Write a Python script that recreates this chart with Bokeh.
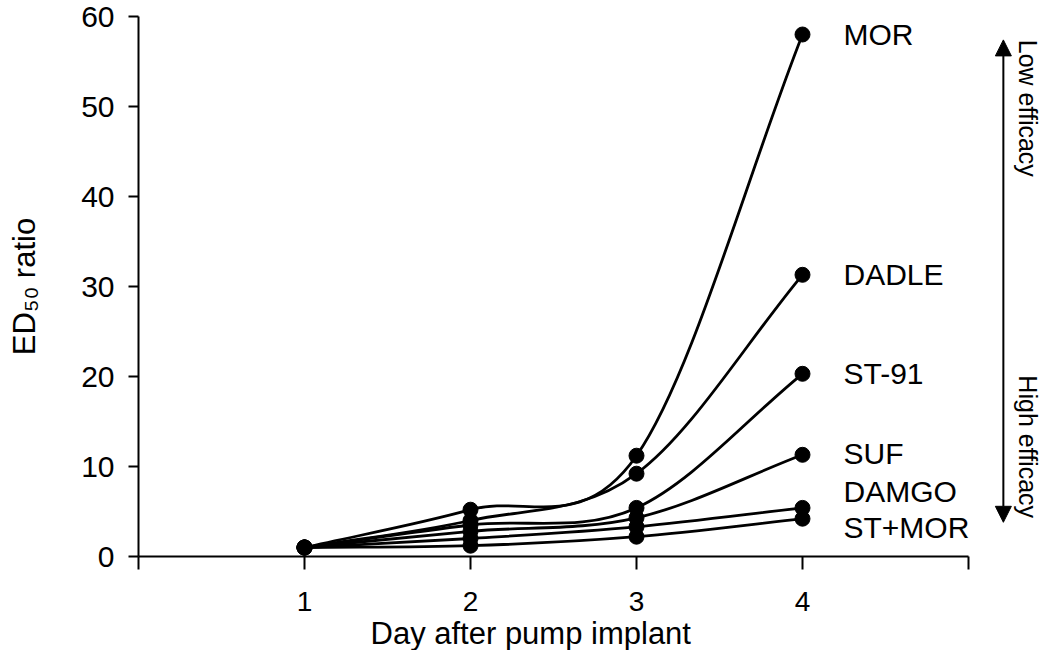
import math
from bokeh.plotting import figure
from bokeh.models import Range1d, FixedTicker, Label, Arrow, NormalHead, Title
from bokeh.core.properties import value
from bokeh.embed import file_html
from bokeh.resources import INLINE

# ---- data ----
days = [1, 2, 3, 4]
series_names = ["MOR", "DADLE", "ST-91", "SUF", "DAMGO", "ST+MOR"]
mor = [1.0, 5.2, 11.2, 58.0]
dadle = [1.0, 4.0, 9.2, 31.3]
st91 = [1.0, 3.5, 5.4, 20.3]
suf = [1.0, 2.8, 4.3, 11.3]
damgo = [1.0, 2.0, 3.3, 5.4]
stmor = [1.0, 1.2, 2.2, 4.2]
x_ticks = [0, 1, 2, 3, 4, 5]
y_ticks = [0, 10, 20, 30, 40, 50, 60]
series_values = [mor, dadle, st91, suf, damgo, stmor]

# label placement (layout only)
label_y = [58.0, 31.3, 20.3, 11.4, 7.2, 3.2]

FONT = "Liberation Sans"
PX_X = 166.0   # pixels per day

p = figure(width=1046, height=650, output_backend="svg", toolbar_location=None,
           x_range=Range1d(0, 908 / PX_X), y_range=Range1d(0, 60),
           min_border_left=138, min_border_right=0, min_border_top=16,
           min_border_bottom=93)
p.outline_line_color = None
p.grid.visible = False
p.background_fill_color = "white"

# axes
p.xaxis.ticker = FixedTicker(ticks=x_ticks)
p.xaxis.major_label_overrides = {0: "", 5: ""}
p.xaxis.bounds = (0, 5)
p.yaxis.ticker = FixedTicker(ticks=y_ticks)
p.yaxis.bounds = (0, 60)
for ax in (p.xaxis, p.yaxis):
    ax.axis_line_width = 2
    ax.axis_line_color = "black"
    ax.major_tick_line_width = 2
    ax.major_tick_line_color = "black"
    ax.major_tick_in = 0
    ax.minor_tick_line_color = None
    ax.major_label_text_font = FONT
    ax.major_label_text_color = "black"
p.xaxis.major_label_text_font_size = "28px"
p.yaxis.major_label_text_font_size = "30px"
p.xaxis.major_tick_out = 13
p.yaxis.major_tick_out = 10
p.xaxis.major_label_standoff = 22
p.yaxis.major_label_standoff = 14

p.yaxis.axis_label = "ED\u2085\u2080 ratio"
p.yaxis.axis_label_text_font = FONT
p.yaxis.axis_label_text_font_size = "31px"
p.yaxis.axis_label_text_font_style = "normal"
p.yaxis.axis_label_text_color = "black"
p.yaxis.axis_label_standoff = 36

# x axis title, centred under the drawn part of the axis
p.add_layout(Title(text="Day after pump implant", align="left", offset=232,
                   text_font=FONT, text_font_size="31px", text_font_style="normal",
                   text_color="black", standoff=0), "below")

# smooth curves (Catmull-Rom style cubic Bezier through the data points)
def tangents(xs, ys):
    n = len(xs)
    t = []
    for i in range(n):
        if i == 0:
            t.append((xs[1] - xs[0], ys[1] - ys[0]))
        elif i == n - 1:
            t.append((xs[-1] - xs[-2], ys[-1] - ys[-2]))
        else:
            t.append(((xs[i + 1] - xs[i - 1]) / 2, (ys[i + 1] - ys[i - 1]) / 2))
    return t

for ys in series_values:
    tg = tangents(days, ys)
    x0, yy0, x1, yy1, cx0, cy0, cx1, cy1 = [], [], [], [], [], [], [], []
    for i in range(len(days) - 1):
        x0.append(days[i]); yy0.append(ys[i])
        x1.append(days[i + 1]); yy1.append(ys[i + 1])
        cx0.append(days[i] + tg[i][0] / 3); cy0.append(ys[i] + tg[i][1] / 3)
        cx1.append(days[i + 1] - tg[i + 1][0] / 3); cy1.append(ys[i + 1] - tg[i + 1][1] / 3)
    p.bezier(x0=x0, y0=yy0, x1=x1, y1=yy1, cx0=cx0, cy0=cy0, cx1=cx1, cy1=cy1,
             line_color="black", line_width=2.8)

for ys in series_values:
    p.scatter(days, ys, size=15, marker="circle", fill_color="black", line_color="black")

# series labels
p.text(x=[4.247] * len(series_names), y=label_y, text=series_names,
       text_font=value(FONT), text_font_size="30px", text_color="black",
       text_align="left", text_baseline="middle")

# efficacy arrow and labels
head = dict(size=16, fill_color="black", line_color="black")
p.add_layout(Arrow(x_start=5.21, y_start=3.8, x_end=5.21, y_end=57.4,
                   line_width=2, line_color="black",
                   start=NormalHead(**head), end=NormalHead(**head)))
for txt, yy in (("Low efficacy", 49.8), ("High efficacy", 12.2)):
    p.add_layout(Label(x=5.36, y=yy, text=txt, angle=-math.pi / 2,
                       text_font=FONT, text_font_size="25px", text_color="black",
                       text_align="center", text_baseline="middle"))

open("out.html", "w").write(file_html(p, INLINE))
